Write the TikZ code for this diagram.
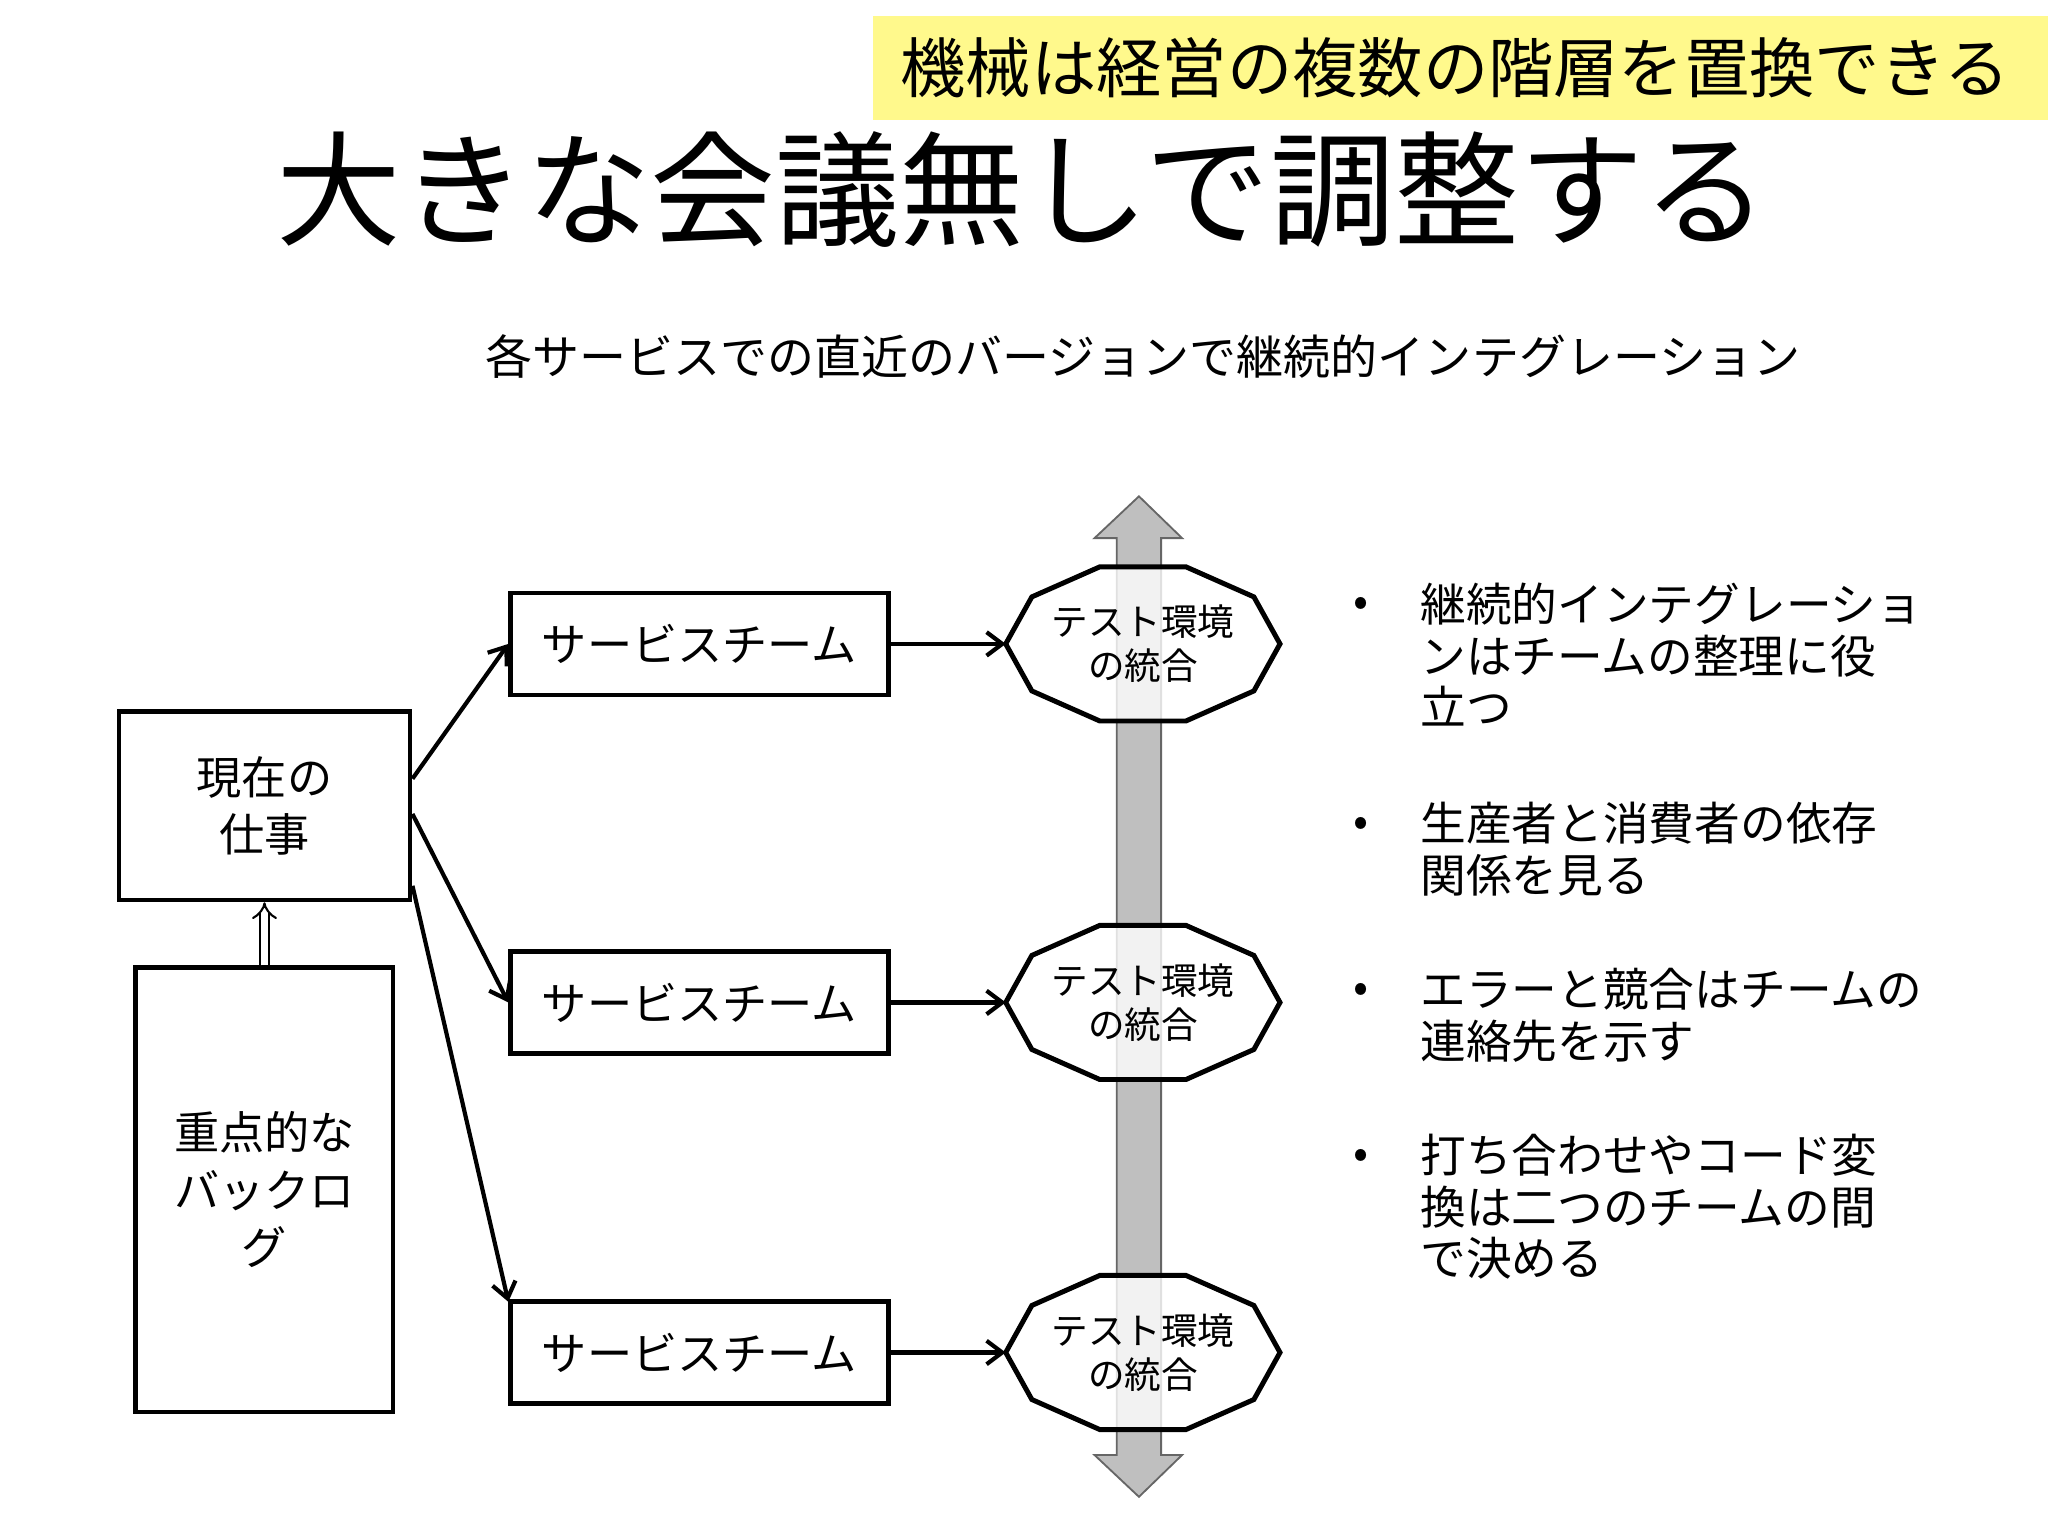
\documentclass[tikz,border=0pt]{standalone}
\usepackage{fontspec}
\setmainfont{Noto Sans CJK JP}
\usetikzlibrary{arrows.meta,calc}
\begin{document}
\begin{tikzpicture}[x=0.5pt,y=-0.5pt,
  box/.style={draw,line width=1.8pt,inner sep=0pt,font=\fontsize{17.3pt}{22pt}\selectfont,align=center},
  arr/.style={-{Straight Barb[length=6pt,width=9pt]},line width=1.6pt},
  oct/.style={minimum width=105pt,minimum height=59pt,inner sep=0pt,align=center,font=\fontsize{14pt}{17pt}\selectfont},
  bul/.style={anchor=north west,align=left,font=\fontsize{17.5pt}{19.7pt}\selectfont,inner sep=0pt}]
\useasboundingbox (0,0) rectangle (1568,1176);
\fill[white] (0,0) rectangle (1568,1176);
\fill[yellow!45] (668,12) rectangle (1568,92);
\node (sub) at (1114,52) {\fontsize{25pt}{28pt}\selectfont 機械は経営の複数の階層を置換できる};
\node (title) at (783,145) {\fontsize{47.7pt}{52pt}\selectfont 大きな会議無しで調整する};
\node (subt) at (875,273) {\fontsize{18pt}{21pt}\selectfont 各サービスでの直近のバージョンで継続的インテグレーション};
% gray arrow
\coordinate (gtop) at (872,380);
\coordinate (gbot) at (872,1146);
\filldraw[fill=gray!50,draw=gray!80!black,line width=0.7pt] (855,412)--(838,412)--(gtop)--(905,412)--(889,412)--(889,1114)--(905,1114)--(gbot)--(838,1114)--(855,1114)--cycle;
% boxes
\node[box,minimum width=111.5pt,minimum height=72pt] (cur) at (202.5,617) {現在の\\仕事};
\node[box,minimum width=98.5pt,minimum height=170pt] (back) at (202.5,911) {重点的な\\バックロ\\グ};
\foreach \i/\y in {1/493,2/767.5,3/1035.5}{
  \node[box,minimum width=144.5pt,minimum height=39pt] (s\i) at (535.5,\y) {サービスチーム};
  \node[oct] (o\i) at (875,\y) {テスト環境\\の統合};
  \filldraw[fill=white,fill opacity=0.8,draw=black,line width=1.9pt]
    ($(o\i)+(-33,-59)$)--($(o\i)+(33,-59)$)--($(o\i)+(85,-36)$)--($(o\i)+(105,0)$)--($(o\i)+(85,36)$)--($(o\i)+(33,59)$)--($(o\i)+(-33,59)$)--($(o\i)+(-85,36)$)--($(o\i)+(-105,0)$)--($(o\i)+(-85,-36)$)--cycle;
  \node[oct] at (o\i) {テスト環境\\の統合};
  \coordinate (ol\i) at ($(o\i)+(-105,0)$);
  \draw[arr] (s\i.east) -- (ol\i);
}
\draw[arr] ($(cur.north east)+(0,53)$) -- (s1.west);
\draw[arr] ($(cur.north east)+(0,80)$) -- (s2.west);
\draw[arr] ($(cur.north east)+(0,135)$) -- ($(s3.north west)+(0,2)$);
\draw[-{Implies},double,line width=0.8pt,double distance=2.5pt] (back.north) -- (cur.south);
% bullets
\foreach \y in {465,633,760,887}{\node[font=\fontsize{17pt}{20pt}\selectfont] at (1042,\y) {•};}
\node[bul] (b1) at (1087,446) {継続的インテグレーショ\\ンはチームの整理に役\\立つ};
\node[bul] (b2) at (1087,614) {生産者と消費者の依存\\関係を見る};
\node[bul] (b3) at (1087,741) {エラーと競合はチームの\\連絡先を示す};
\node[bul] (b4) at (1087,868) {打ち合わせやコード変\\換は二つのチームの間\\で決める};
\end{tikzpicture}
\end{document}
